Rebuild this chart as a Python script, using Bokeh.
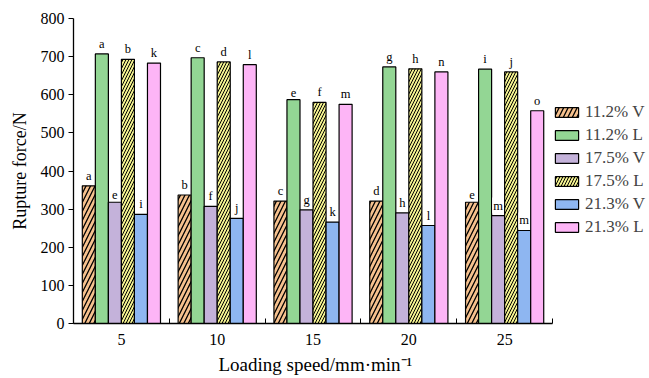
from bokeh.plotting import figure
from bokeh.models import FixedTicker, Legend, LegendItem, Title
from bokeh.core.properties import value
from bokeh.embed import file_html
from bokeh.resources import INLINE

# Loading speeds (mm/min)
speeds = [5, 10, 15, 20, 25]

# Rupture force (N) per moisture content and loading direction
f_112_v = [361, 337, 321, 321, 318]
f_112_l = [707, 697, 587, 673, 667]
f_175_v = [318, 307, 298, 290, 283]
f_175_l = [693, 686, 580, 668, 660]
f_213_v = [286, 276, 266, 257, 244]
f_213_l = [683, 679, 575, 660, 558]

# Significance letters above each bar
lt_112_v = ["a", "b", "c", "d", "e"]
lt_112_l = ["a", "c", "e", "g", "i"]
lt_175_v = ["e", "f", "g", "h", "m"]
lt_175_l = ["b", "d", "f", "h", "j"]
lt_213_v = ["i", "j", "k", "l", "m"]
lt_213_l = ["k", "l", "m", "n", "o"]

series_names = ["11.2% V", "11.2% L", "17.5% V", "17.5% L", "21.3% V", "21.3% L"]

SERIF = "Liberation Serif"

# frame runs to the right edge so the legend can sit beside the last group;
# the x axis line itself stops at 27.5
p = figure(width=649, height=378, x_range=(2.5, 32.56), y_range=(0, 800),
           output_backend="svg", toolbar_location=None,
           min_border_left=73, min_border_right=0,
           min_border_top=18, min_border_bottom=55)
p.outline_line_color = None
p.xgrid.visible = False
p.ygrid.visible = False

series = [
    (f_112_v, lt_112_v, dict(fill_color="#F6C18E", hatch_pattern="/", hatch_scale=9, hatch_weight=1.3, hatch_color="black")),
    (f_112_l, lt_112_l, dict(fill_color="#93D694")),
    (f_175_v, lt_175_v, dict(fill_color="#C4B2DA")),
    (f_175_l, lt_175_l, dict(fill_color="#F3F290", hatch_pattern="/", hatch_scale=6, hatch_weight=1.0, hatch_color="black")),
    (f_213_v, lt_213_v, dict(fill_color="#8EB6F1")),
    (f_213_l, lt_213_l, dict(fill_color="#FDB5F6")),
]

bar_w = 0.68
items = []
for i, (vals, letters, style) in enumerate(series):
    xs = [s + (i - 2.5) * bar_w for s in speeds]
    r = p.vbar(x=xs, top=vals, width=bar_w, bottom=0,
               line_color="black", line_width=1.2, **style)
    items.append(LegendItem(label=series_names[i], renderers=[r]))
    p.text(x=xs, y=vals, text=letters, text_align="center", text_baseline="bottom",
           y_offset=-2, text_font=value(SERIF), text_font_size="12.5px",
           text_color="black", background_fill_color="white", padding=1)

legend = Legend(items=items, location=(479, 86), orientation="vertical",
                label_text_font=SERIF, label_text_font_size="17px",
                glyph_width=29, glyph_height=12, label_height=20,
                label_standoff=4, spacing=3, padding=0, margin=0,
                border_line_color=None, background_fill_alpha=0)
p.add_layout(legend, "center")

# x axis: labels at the speeds, small inner ticks between groups
p.xaxis.bounds = (2.5, 27.5)
p.xaxis.ticker = FixedTicker(ticks=speeds, minor_ticks=[2.5, 7.5, 12.5, 17.5, 22.5, 27.5])
p.xaxis.major_tick_in = 0
p.xaxis.major_tick_out = 0
p.xaxis.minor_tick_in = 5
p.xaxis.minor_tick_out = 0

p.yaxis.ticker = FixedTicker(ticks=list(range(0, 801, 100)))
p.yaxis.major_tick_in = 0
p.yaxis.major_tick_out = 5
p.yaxis.axis_label = "Rupture force/N"

for ax in (p.xaxis, p.yaxis):
    ax.axis_line_color = "black"
    ax.axis_line_width = 1.3
    ax.major_tick_line_color = "black"
    ax.minor_tick_line_color = "black"
    ax.major_label_text_font = SERIF
    ax.major_label_text_font_size = "16px"
    ax.major_label_text_color = "black"
    ax.axis_label_text_font = SERIF
    ax.axis_label_text_font_size = "18px"
    ax.axis_label_text_font_style = "normal"
    ax.axis_label_text_color = "black"

p.yaxis.minor_tick_line_color = None
p.xaxis.major_label_standoff = 10
p.yaxis.major_label_standoff = 4
p.yaxis.axis_label_standoff = 8

# x axis title, centred under the axis line rather than the whole frame
xlabel = Title(text="Loading speed/mm·min⁻¹", align="left", offset=145,
               text_font=SERIF, text_font_size="19px", text_font_style="normal",
               text_color="black", standoff=8)
p.add_layout(xlabel, "below")

open("out.html", "w").write(file_html(p, INLINE))
